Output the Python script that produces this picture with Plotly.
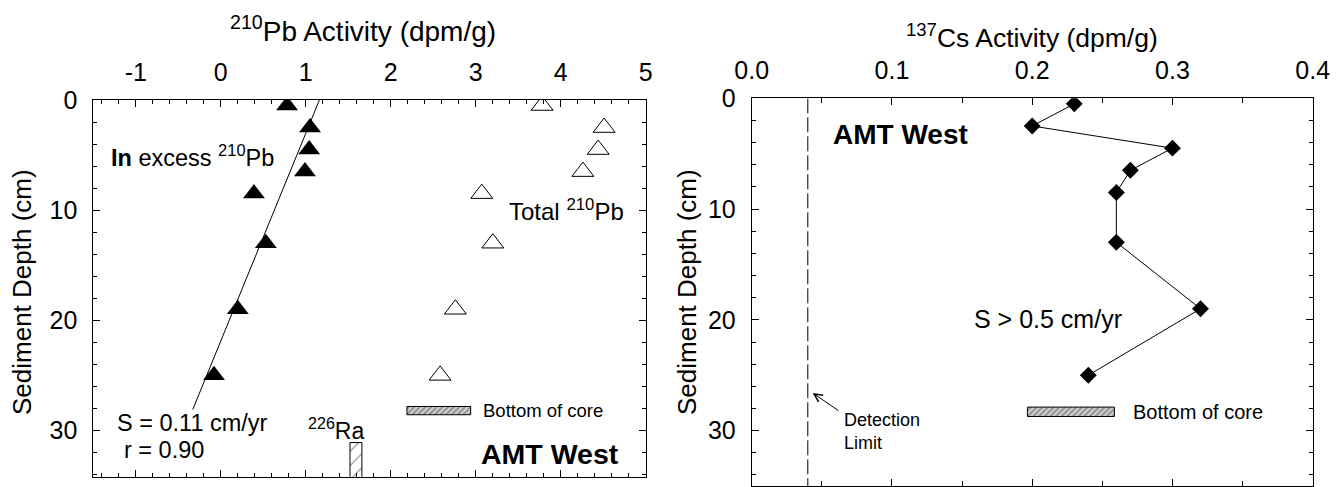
import plotly.graph_objects as go

# ---------------- data ----------------
# Left panel: 210Pb
depth_pb = [0.5, 2.5, 4.5, 6.5, 8.5, 13, 19, 25]
excess_pb = [0.78, 1.05, 1.04, 0.99, 0.39, 0.53, 0.20, -0.08]
total_pb = [3.78, 4.51, 4.44, 4.26, 3.07, 3.20, 2.76, 2.58]
fit_depth = [0.0, 28.1]
fit_pb = [1.16, -0.33]
ra226_activity = [1.59]
ra226_top = [31.1]
ra226_len = [4.0]
core_bottom_left = [28.2]
core_bar_left_start = [2.19]
core_bar_left_len = [0.75]
pb_tickvals = [-1, 0, 1, 2, 3, 4, 5]
pb_ticktext = ["-1", "0", "1", "2", "3", "4", "5"]

# Right panel: 137Cs
depth_cs = [0.5, 2.5, 4.5, 6.5, 8.5, 13, 19, 25]
cs_activity = [0.23, 0.20, 0.30, 0.27, 0.26, 0.26, 0.32, 0.24]
detection_limit = 0.04
core_bottom_right = [28.3]
core_bar_right_start = [0.1966]
core_bar_right_len = [0.062]

W, H = 1343, 487
FONT = "Liberation Sans, Arial, sans-serif"

def xd(a, b):
    return [a / W, b / W]

def yd(top, bottom):
    return [1 - bottom / H, 1 - top / H]

fig = go.Figure()

# ---- left panel ----
fig.add_trace(go.Scatter(x=fit_pb, y=fit_depth, mode="lines",
                         line=dict(color="black", width=1), xaxis="x", yaxis="y"))
fig.add_trace(go.Scatter(x=excess_pb, y=depth_pb, mode="markers",
                         marker=dict(symbol="triangle-up", size=19, color="black"),
                         xaxis="x", yaxis="y"))
fig.add_trace(go.Scatter(x=total_pb, y=depth_pb, mode="markers",
                         marker=dict(symbol="triangle-up", size=19, color="white",
                                     line=dict(color="black", width=1)),
                         xaxis="x", yaxis="y"))
fig.add_trace(go.Bar(orientation="h", y=core_bottom_left, x=core_bar_left_len,
                     base=core_bar_left_start, width=0.75,
                     marker=dict(color="#cfcfcf", line=dict(color="black", width=1),
                                 pattern=dict(shape="/", fgcolor="#444", bgcolor="#d0d0d0",
                                              size=4, solidity=0.45)),
                     xaxis="x", yaxis="y"))
fig.add_trace(go.Bar(x=ra226_activity, y=ra226_len, base=ra226_top, width=0.14,
                     marker=dict(color="white", line=dict(color="black", width=1),
                                 pattern=dict(shape="/", fgcolor="black", bgcolor="white",
                                              size=10, solidity=0.1)),
                     xaxis="x", yaxis="y"))

# ---- right panel ----
fig.add_trace(go.Scatter(x=[detection_limit, detection_limit], y=[0, 35], mode="lines",
                         line=dict(color="black", width=1, dash="15px,4px"),
                         xaxis="x2", yaxis="y2"))
fig.add_trace(go.Scatter(x=cs_activity, y=depth_cs, mode="lines+markers",
                         line=dict(color="black", width=1),
                         marker=dict(symbol="diamond", size=13, color="black"),
                         xaxis="x2", yaxis="y2"))
fig.add_trace(go.Bar(orientation="h", y=core_bottom_right, x=core_bar_right_len,
                     base=core_bar_right_start, width=0.85,
                     marker=dict(color="#cfcfcf", line=dict(color="black", width=1),
                                 pattern=dict(shape="/", fgcolor="#444", bgcolor="#d0d0d0",
                                              size=4, solidity=0.45)),
                     xaxis="x2", yaxis="y2"))

axis_common = dict(showline=True, linecolor="black", linewidth=1, mirror="allticks",
                   ticks="inside", ticklen=7, tickwidth=1, tickcolor="black",
                   showgrid=False, zeroline=False, automargin=False,
                   tickfont=dict(family=FONT, size=25, color="black"))

fig.update_layout(
    width=W, height=H,
    margin=dict(l=0, r=0, t=0, b=0, pad=0, autoexpand=False),
    paper_bgcolor="white", plot_bgcolor="white",
    showlegend=False, barmode="overlay",
    font=dict(family=FONT, color="black"),
    xaxis=dict(domain=xd(93.3, 645.8), range=[-1.5, 5], side="top", anchor="y",
               tickmode="array", tickvals=pb_tickvals, ticktext=pb_ticktext,
               minor=dict(dtick=0.2, tick0=0, ticks="inside", ticklen=4, tickcolor="black"),
               ticklabelstandoff=8, **axis_common),
    yaxis=dict(domain=yd(100, 476.7), range=[34.2, 0], anchor="x",
               dtick=10, tick0=0,
               minor=dict(dtick=2, tick0=0, ticks="inside", ticklen=4, tickcolor="black"),
               ticklabelstandoff=10, **axis_common),
    xaxis2=dict(domain=xd(751.7, 1312.7), range=[0, 0.4], side="top", anchor="y2",
                dtick=0.1, tick0=0, tickformat=".1f",
                minor=dict(dtick=0.05, tick0=0, ticks="inside", ticklen=5, tickcolor="black"),
                ticklabelstandoff=8, **axis_common),
    yaxis2=dict(domain=yd(98.3, 486), range=[35, 0], anchor="x2",
                dtick=10, tick0=0,
                minor=dict(dtick=2, tick0=0, ticks="inside", ticklen=4, tickcolor="black"),
                ticklabelstandoff=10, **axis_common),
)

def ann(text, x, y, xref, yref, size, xanchor="left", yanchor="middle", **kw):
    fig.add_annotation(text=text, x=x, y=y, xref=xref, yref=yref, showarrow=False,
                       xanchor=xanchor, yanchor=yanchor,
                       font=dict(family=FONT, size=size, color="black"), **kw)

# axis titles
ann("<sup>210</sup>Pb Activity (dpm/g)", 363 / W, 1 - 29 / H, "paper", "paper", 28, xanchor="center")
ann("<sup>137</sup>Cs Activity (dpm/g)", 1032 / W, 1 - 36 / H, "paper", "paper", 26.5, xanchor="center")
ann("Sediment Depth (cm)", 22 / W, 1 - 292 / H, "paper", "paper", 26, xanchor="center", textangle=-90)
ann("Sediment Depth (cm)", 687 / W, 1 - 292 / H, "paper", "paper", 26, xanchor="center", textangle=-90)

# left panel texts
ann("<b>In</b> excess <sup>210</sup>Pb", -1.31, 5.1, "x", "y", 23.5)
ann("Total <sup>210</sup>Pb", 3.37, 10.0, "x", "y", 24)
ann("S = 0.11 cm/yr", -1.24, 29.3, "x", "y", 23.5)
ann("r = 0.90", -1.16, 31.8, "x", "y", 23.5)
ann("<sup>226</sup>Ra", 1.36, 29.9, "x", "y", 23, xanchor="center")
ann("Bottom of core", 3.06, 28.2, "x", "y", 18.5)
ann("<b>AMT West</b>", 4.71, 32.1, "x", "y", 28.5, xanchor="right")

# right panel texts
ann("<b>AMT West</b>", 0.0565, 3.3, "x2", "y2", 28)
ann("S > 0.5 cm/yr", 0.157, 19.9, "x2", "y2", 25)
ann("Bottom of core", 0.2705, 28.35, "x2", "y2", 20)
ann("Detection<br>Limit", 0.0645, 30.1, "x2", "y2", 18, align="left")
fig.add_annotation(x=0.0435, y=26.6, ax=0.063, ay=28.3, xref="x2", yref="y2",
                   axref="x2", ayref="y2", text="", showarrow=True,
                   arrowhead=5, arrowsize=1.6, arrowwidth=1, arrowcolor="black")

fig.write_html("out.html")
